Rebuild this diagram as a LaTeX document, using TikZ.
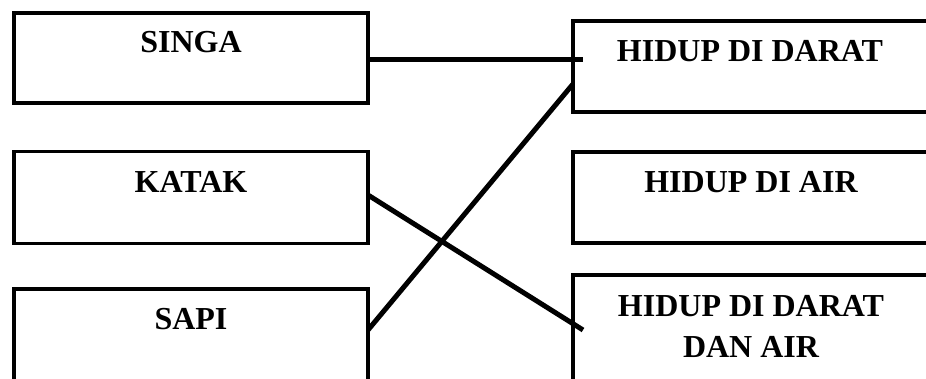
\documentclass[tikz,border=0pt]{standalone}
\usepackage{fontspec}
\setmainfont{Liberation Serif}
\usetikzlibrary{calc}
\begin{document}
\begin{tikzpicture}[x=1pt,y=-1pt,
  box/.style={draw=black,line width=3.5pt,outer sep=0pt,inner sep=0pt,fill=none},
  lbl/.style={anchor=base,inner sep=0pt,align=center,font=\bfseries\fontsize{32}{41}\selectfont},
  conn/.style={line width=5pt,line cap=butt}]
\useasboundingbox (0,0) rectangle (926,379);
\clip (0,0) rectangle (926,379);
% left boxes
\node[box,minimum width=354pt,minimum height=90pt] (singa) at (191,58) {};
\node[box,minimum width=354pt,minimum height=92pt] (katak) at (191,197.5) {};
\node[box,minimum width=354pt,minimum height=120pt] (sapi) at (191,349) {};
% right boxes
\node[box,minimum width=380pt,minimum height=91pt] (darat) at (763,66.5) {};
\node[box,minimum width=380pt,minimum height=91pt] (air) at (763,197.5) {};
\node[box,minimum width=380pt,minimum height=125pt] (dan) at (763,337.5) {};
% labels
\node[lbl] (tsinga) at (191,53) {SINGA};
\node[lbl] (tkatak) at (191,193) {KATAK};
\node[lbl] (tsapi) at (191,329) {SAPI};
\node[lbl] (tdarat) at (750,62) {HIDUP DI DARAT};
\node[lbl] (tair) at (751,192.5) {HIDUP DI AIR};
\node[lbl] (tdan) at (751,357) {HIDUP DI DARAT\\DAN AIR};
% connectors
\draw[conn] ($(singa.east)+(0,2)$) -- ($(darat.west)+(10,-6.5)$);
\draw[conn] ($(katak.east)+(0,-2.5)$) -- ($(dan.west)+(10,-7.5)$);
\draw[conn] ($(sapi.east)+(0,-19)$) -- ($(darat.west)+(0,17.5)$);
\end{tikzpicture}
\end{document}
